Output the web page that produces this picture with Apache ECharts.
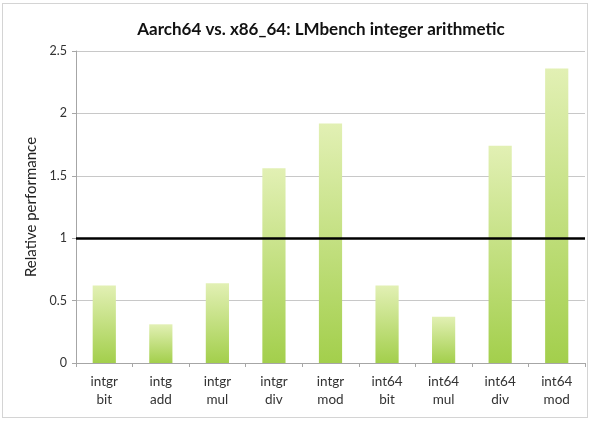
<!DOCTYPE html>
<html>
<head>
<meta charset="utf-8">
<script src="https://cdn.jsdelivr.net/npm/echarts@6/dist/echarts.min.js"></script>
<style>
  html, body { margin: 0; padding: 0; background: #fff; }
  #frame { position: absolute; left: 2px; top: 3px; width: 584px; height: 413px; border: 1px solid #d4d4d4; }
  #chart { position: absolute; left: 0; top: 0; width: 590px; height: 421px; }
</style>
</head>
<body>
<div id="frame"></div>
<div id="chart"></div>
<script>
// LMbench 整数运算 相对性能
var categories = ['intgr\nbit', 'intg\nadd', 'intgr\nmul', 'intgr\ndiv', 'intgr\nmod', 'int64\nbit', 'int64\nmul', 'int64\ndiv', 'int64\nmod'];
var relPerf = [0.62, 0.31, 0.64, 1.56, 1.92, 0.62, 0.37, 1.74, 2.36];
var baseline = 1;

var chart = echarts.init(document.getElementById('chart'));
var option = {
  animation: false,
  title: {
    text: 'Aarch64 vs. x86_64: LMbench integer arithmetic',
    left: 316,
    textAlign: 'center',
    top: 16,
    textStyle: { fontFamily: 'Lato', fontSize: 17, fontWeight: 'bold', color: '#111' }
  },
  grid: { left: 76, right: 5, top: 51, bottom: 58 },
  xAxis: {
    type: 'category',
    data: categories,
    axisLine: { lineStyle: { color: '#a6a6a6', width: 1 } },
    axisTick: { show: true, length: 4, lineStyle: { color: '#a6a6a6' } },
    axisLabel: { fontFamily: 'Lato', fontSize: 13.5, color: '#333', lineHeight: 18, margin: 10 }
  },
  yAxis: {
    type: 'value',
    min: 0,
    max: 2.5,
    interval: 0.5,
    name: 'Relative performance',
    nameLocation: 'middle',
    nameGap: 35,
    nameTextStyle: { fontFamily: 'Lato', fontSize: 15, color: '#222' },
    axisLine: { show: true, lineStyle: { color: '#a6a6a6', width: 1 } },
    axisTick: { show: true, length: 4, lineStyle: { color: '#a6a6a6' } },
    axisLabel: { fontFamily: 'Lato', fontSize: 12.5, color: '#333', margin: 9 },
    splitLine: { lineStyle: { color: '#c8c8c8', width: 1 } }
  },
  series: [{
    type: 'bar',
    data: relPerf,
    barWidth: '41%',
    itemStyle: {
      color: new echarts.graphic.LinearGradient(0, 0, 0, 1, [
        { offset: 0, color: '#e2f0b4' },
        { offset: 1, color: '#a3cf4c' }
      ])
    },
    markLine: {
      silent: true,
      symbol: 'none',
      label: { show: false },
      lineStyle: { color: '#000', width: 2.5, type: 'solid' },
      data: [{ yAxis: baseline }]
    }
  }]
};
chart.setOption(option);
</script>
</body>
</html>
